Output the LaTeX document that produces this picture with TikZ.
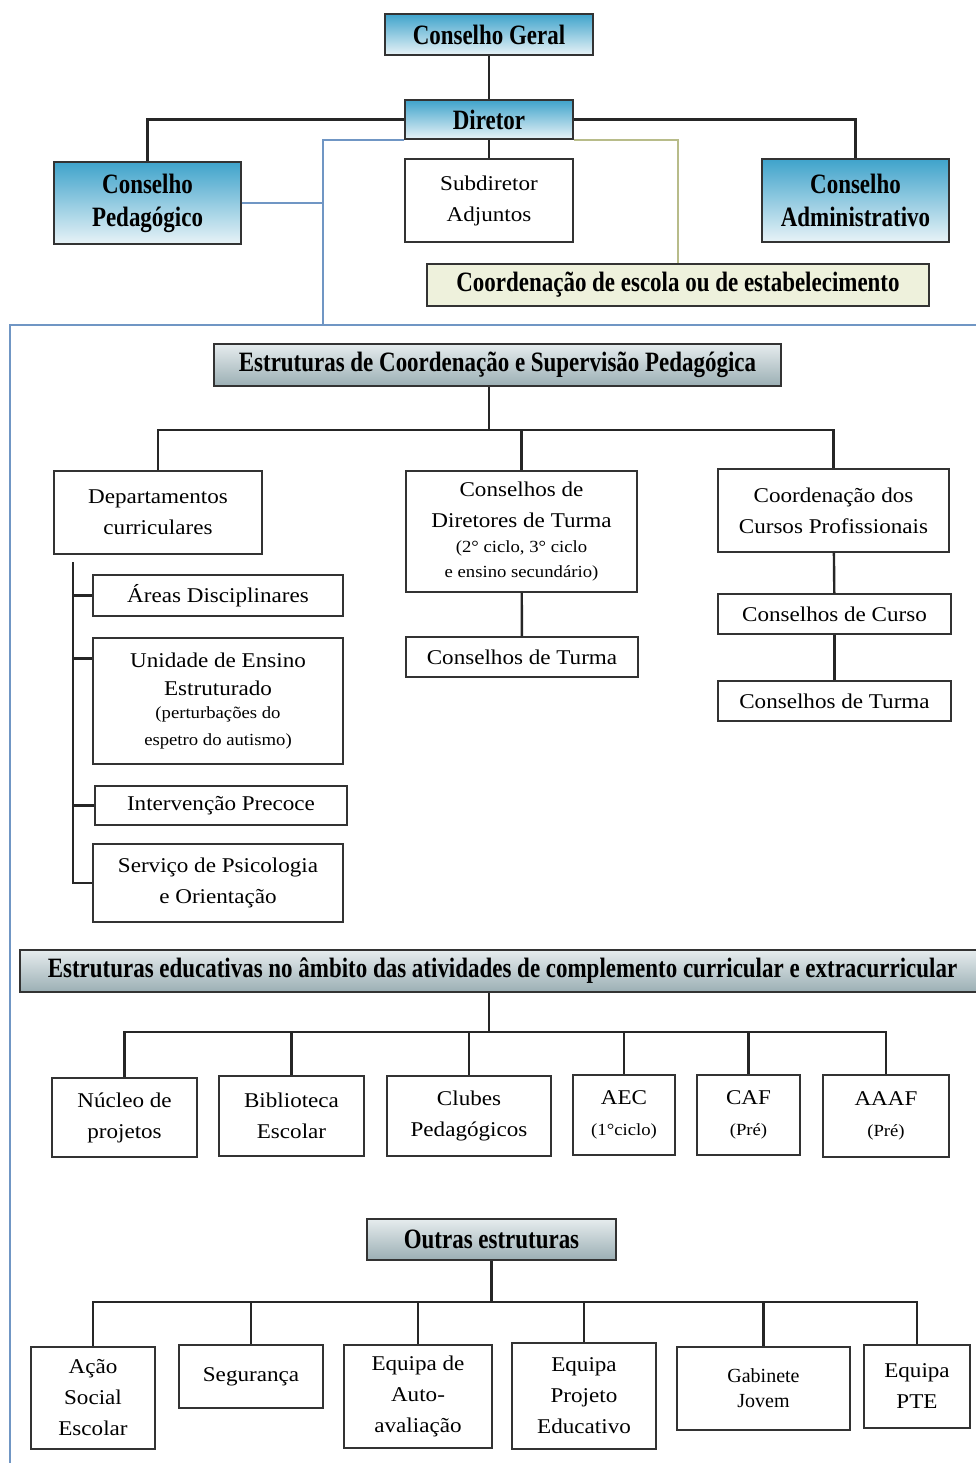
\documentclass[tikz,border=0pt]{standalone}
\usepackage{fontspec}
\setmainfont{Liberation Serif}[FakeStretch=1.1]
\newfontfamily\headfont{Liberation Serif}[FakeStretch=0.82]
\newfontfamily\plainfont{Liberation Serif}
\usepackage{tikz}
\usepackage{xcolor}
\definecolor{topblue}{HTML}{3FA3CB}
\definecolor{lowblue}{HTML}{E8F3F7}
\definecolor{topgray}{HTML}{E6ECEE}
\definecolor{lowgray}{HTML}{9BAFB4}
\definecolor{palegreen}{HTML}{EEF1DC}
\definecolor{framecol}{HTML}{7096C4}
\definecolor{olivecol}{HTML}{B8BC8A}
\tikzset{
  box/.style={draw=black!80, line width=1.4pt, fill=white, inner sep=0pt, align=center,
    font=\fontsize{21}{31}\selectfont},
  headbox/.style={box, font=\headfont\bfseries\fontsize{28}{33}\selectfont},
  bluebox/.style={headbox, top color=topblue, bottom color=lowblue},
  graybox/.style={headbox, top color=topgray, bottom color=lowgray},
  link/.style={line width=2.4pt, black!85},
  blueline/.style={line width=2pt, framecol},
  oliveline/.style={line width=2pt, olivecol}
}
\newcommand{\smalltxt}{\fontsize{17}{24}\selectfont}
\begin{document}
\begin{tikzpicture}[x=1pt,y=-1pt]
\useasboundingbox (0,0) rectangle (976,1463);
\fill[white] (0,0) rectangle (976,1463);
\node[bluebox, minimum width=208pt, minimum height=41pt] (cg) at (489,34.5) {Conselho Geral};
\node[bluebox, minimum width=168pt, minimum height=39pt] (dir) at (489,119.5) {Diretor};
\node[bluebox, minimum width=187pt, minimum height=82pt] (cped) at (147.5,203) {Conselho\\Pedagógico};
\node[box, minimum width=168pt, minimum height=83pt] (subd) at (489,200.5) {Subdiretor\\Adjuntos};
\node[bluebox, minimum width=187pt, minimum height=83pt] (cadm) at (855.5,200.5) {Conselho\\Administrativo};
\node[headbox, fill=palegreen, minimum width=502pt, minimum height=42pt] (cesc) at (678,285) {Coordenação de escola ou de estabelecimento};
\coordinate (fj) at (323,325);
\coordinate (frameTL) at (10,325);
\coordinate (frameTR) at (985,325);
\coordinate (frameBL) at (10,1470);
\draw[link] (cg) -- (dir);
\draw[link] (dir.west) -| (cped.north);
\draw[link] (dir.east) -| (cadm.north);
\draw[link] (dir) -- (subd);
\draw[blueline] (dir.south west) -| (fj);
\draw[blueline] (cped.east) -- (cped.east -| fj);
\draw[oliveline] (dir.south east) -| (cesc.north);
\draw[blueline] (frameTR) -- (frameTL) -- (frameBL);
\node[graybox, minimum width=567pt, minimum height=42pt] (ecsp) at (497.5,365) {Estruturas de Coordenação e Supervisão Pedagógica};
\coordinate (busA) at (489,430);
\draw[link] (busA |- ecsp.south) -- (busA);
\node[box, minimum width=208pt, minimum height=83pt] (dep) at (158,512.5) {Departamentos\\curriculares};
\node[box, minimum width=231pt, minimum height=121pt] (cdt) at (521.5,531.5) {Conselhos de\\Diretores de Turma\\[-6pt]\smalltxt(2° ciclo, 3° ciclo\\[-6pt]\smalltxt e ensino secundário)};
\node[box, minimum width=231pt, minimum height=83pt] (ccp) at (833.5,510.5) {Coordenação dos\\Cursos Profissionais};
\draw[link] (busA) -| (dep.north);
\draw[link] (busA) -| (cdt.north);
\draw[link] (busA) -| (ccp.north);
\node[box, minimum width=232pt, minimum height=40pt] (ctA) at (522,657) {Conselhos de Turma};
\node[box, minimum width=233pt, minimum height=40pt] (curso) at (834.5,614) {Conselhos de Curso};
\node[box, minimum width=233pt, minimum height=40pt] (ctB) at (834.5,701) {Conselhos de Turma};
\draw[link] (cdt) -- (ctA);
\draw[link] (ccp) -- (curso);
\draw[link] (curso) -- (ctB);
\node[box, minimum width=250pt, minimum height=41pt] (areas) at (218,595.5) {Áreas Disciplinares};
\node[box, minimum width=250pt, minimum height=126pt] (unid) at (218,701) {Unidade de Ensino\\[-3pt]Estruturado\\[-8pt]\smalltxt(perturbações do\\[-4pt]\smalltxt espetro do autismo)};
\node[box, minimum width=252pt, minimum height=39pt] (interv) at (221,805.5) {Intervenção Precoce};
\node[box, minimum width=250pt, minimum height=78pt] (serv) at (218,883) {Serviço de Psicologia\\e Orientação};
\coordinate (spine) at (73,562);
\draw[link] (spine) |- (serv.west);
\draw[link] (spine |- areas.west) -- (areas.west);
\draw[link] (spine |- unid.north west) ++(0,21) -- ([yshift=-21pt]unid.north west);
\draw[link] (spine |- interv.west) -- (interv.west);
\node[graybox, minimum width=965pt, minimum height=42pt] (eeac) at (502.5,971) {Estruturas educativas no âmbito das atividades de complemento curricular e extracurricular};
\coordinate (busB) at (489,1032);
\draw[link] (busB |- eeac.south) -- (busB);
\node[box, minimum width=145pt, minimum height=79pt] (nuc) at (124.5,1117.5) {Núcleo de\\projetos};
\node[box, minimum width=145pt, minimum height=80pt] (bib) at (291.5,1116) {Biblioteca\\Escolar};
\node[box, minimum width=164pt, minimum height=80pt] (clu) at (469,1116) {Clubes\\Pedagógicos};
\node[box, minimum width=102pt, minimum height=80pt] (aec) at (624,1115) {AEC\\\smalltxt(1°ciclo)};
\node[box, minimum width=103pt, minimum height=80pt] (caf) at (748.5,1115) {CAF\\\smalltxt(Pré)};
\node[box, minimum width=126pt, minimum height=82pt] (aaaf) at (886,1116) {AAAF\\\smalltxt(Pré)};
\foreach \n in {nuc,bib,clu,aec,caf,aaaf}
  \draw[link] (busB) -| (\n.north);
\node[graybox, minimum width=249pt, minimum height=41pt] (outras) at (491.5,1239.5) {Outras estruturas};
\coordinate (busC) at (491.5,1302);
\draw[link] (outras) -- (busC);
\node[box, minimum width=124pt, minimum height=102pt] (ase) at (93,1398) {Ação\\Social\\Escolar};
\node[box, minimum width=144pt, minimum height=63pt] (seg) at (251,1376.5) {Segurança};
\node[box, minimum width=148pt, minimum height=103pt] (eaa) at (418,1396.5) {Equipa de\\Auto-\\avaliação};
\node[box, minimum width=144pt, minimum height=106pt] (epe) at (584,1396) {Equipa\\Projeto\\Educativo};
\node[box, minimum width=173pt, minimum height=83pt, font=\plainfont\fontsize{20}{25}\selectfont] (gab) at (763.5,1388.5) {Gabinete\\Jovem};
\node[box, minimum width=106pt, minimum height=83pt] (pte) at (917,1386.5) {Equipa\\PTE};
\foreach \n in {ase,seg,eaa,epe,gab,pte}
  \draw[link] (busC) -| (\n.north);
\end{tikzpicture}
\end{document}
